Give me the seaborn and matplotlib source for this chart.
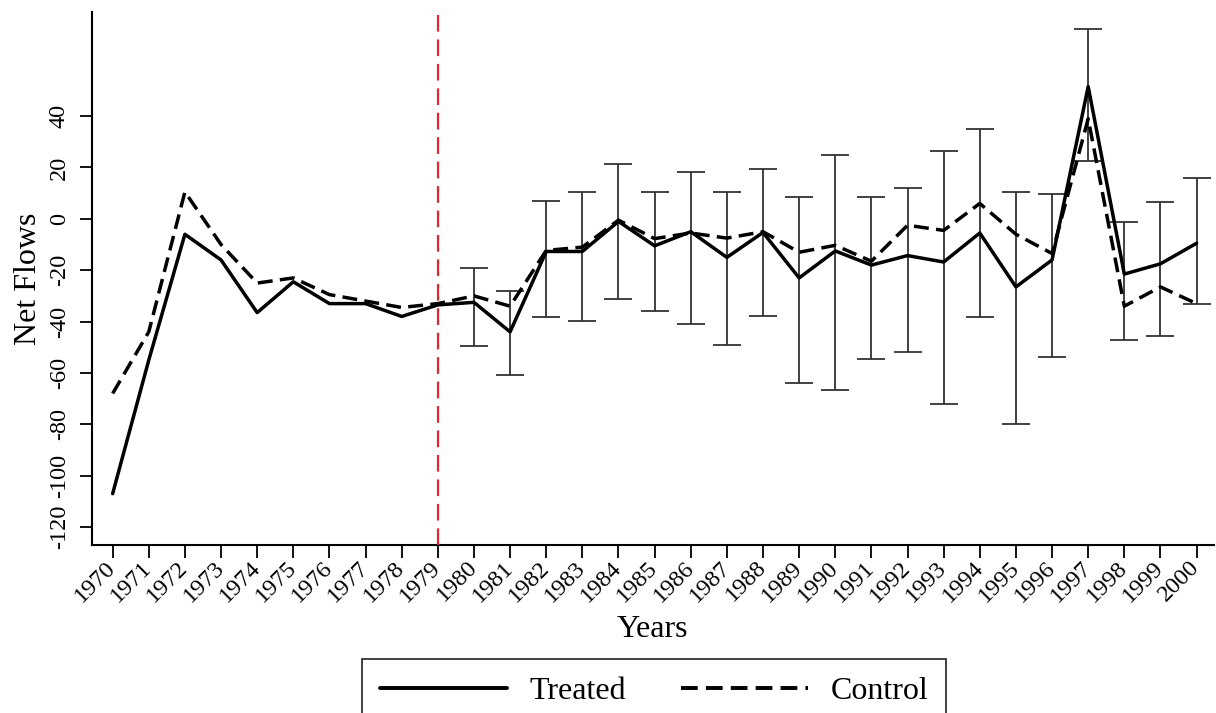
import numpy as np
import pandas as pd
import matplotlib
matplotlib.use("Agg")
import matplotlib.pyplot as plt
import seaborn as sns

# Annual net flows for treated and control groups, 1970-2000
years = list(range(1970, 2001))
treated = [-107, -55, -6, -16, -36.5, -24.5, -33, -33, -38, -33.5,
           -32.5, -44, -12.7, -12.7, -1, -10.5, -5, -15, -5.3, -23,
           -12.5, -18, -14.3, -16.8, -5.5, -26.5, -16, 51.5, -21.5, -17.5, -9.5]
control = [-68, -44, 10.5, -10, -25, -23, -29.5, -32, -34.5, -33,
           -30, -34, -12.3, -11, -0.5, -7.7, -5.5, -7.5, -5, -13,
           -10.3, -16.5, -2.5, -4.5, 6, -6, -13.5, 39, -34, -26.5, -33]

# Confidence interval bounds for the post-treatment period (1980-2000)
ci_years = list(range(1980, 2001))
ci_low = [-49.4, -60.9, -38.4, -39.9, -31.4, -36, -40.9, -49, -37.8, -63.9,
          -66.5, -54.7, -51.9, -72.2, -38.3, -80, -53.6, 22.7, -47, -45.6, -33]
ci_high = [-19, -27.9, 6.9, 10.4, 21.3, 10.4, 18.2, 10.3, 19.4, 8.7,
           24.7, 8.6, 12.1, 26.5, 34.9, 10.3, 9.6, 74.1, -1.2, 6.5, 16]

treatment_year = 1979
y_ticks = [-120, -100, -80, -60, -40, -20, 0, 20, 40]

sns.set_theme(style="ticks")
plt.rcParams["font.family"] = ["Liberation Serif", "DejaVu Serif"]
plt.rcParams["text.color"] = "black"
plt.rcParams["axes.labelcolor"] = "black"

df = pd.DataFrame({"Years": years, "Treated": treated, "Control": control})

fig = plt.figure(figsize=(12.16, 7.13), dpi=100)
ax = fig.add_axes([0.0757, 0.2356, 0.9223, 0.7474])

# confidence intervals
ci_mid = [(lo + hi) / 2 for lo, hi in zip(ci_low, ci_high)]
ci_err = [[m - lo for m, lo in zip(ci_mid, ci_low)],
          [hi - m for m, hi in zip(ci_mid, ci_high)]]
ax.errorbar(ci_years, ci_mid, yerr=ci_err, fmt="none", ecolor="#333333",
            elinewidth=1.3, capsize=10, capthick=1.3, zorder=1,
            label="_nolegend_")

sns.lineplot(data=df, x="Years", y="Treated", ax=ax, color="black",
             linewidth=2.5, label="Treated", zorder=3)
sns.lineplot(data=df, x="Years", y="Control", ax=ax, color="black",
             linewidth=2.5, label="Control", zorder=2, dashes=False)
ax.lines[-1].set_dashes((4.3, 2.1))

ax.axvline(treatment_year, color="#e8232a", linewidth=1.6,
           dashes=(7.5, 3.5), zorder=4)

ax.set_xlim(1969.43, 2000.47)
ax.set_ylim(-127, 80.5)
ax.set_xticks(years)
ax.set_xticklabels([str(y) for y in years], rotation=45, ha="right",
                   rotation_mode="anchor", va="center")
ax.set_yticks(y_ticks)
ax.set_yticklabels([str(v) for v in y_ticks], rotation=90, va="center")

ax.tick_params(axis="both", direction="out", length=9, width=1.3,
               colors="black", labelsize=17.5)
ax.tick_params(axis="y", pad=7)
ax.tick_params(axis="x", pad=5)

for side in ["top", "right"]:
    ax.spines[side].set_visible(False)
for side in ["left", "bottom"]:
    ax.spines[side].set_color("black")
    ax.spines[side].set_linewidth(1.5)

ax.set_xlabel("Years", fontsize=23, labelpad=6, color="black")
ax.set_ylabel("Net Flows", fontsize=23, labelpad=4, color="black")

ax.get_legend().remove()
handles, labels = ax.get_legend_handles_labels()
leg = fig.legend(handles, labels, loc="upper center",
                 bbox_to_anchor=(654 / 1216, 1 - 659 / 713), ncol=2,
                 fontsize=23, frameon=True, fancybox=False, borderpad=0.55,
                 borderaxespad=0, handlelength=4, handletextpad=0.7,
                 columnspacing=1.7, labelcolor="black")
leg.get_frame().set_edgecolor("black")
leg.get_frame().set_linewidth(1.3)
for line in leg.get_lines():
    line.set_linewidth(2.8)

fig.savefig("out.png", dpi=100)
